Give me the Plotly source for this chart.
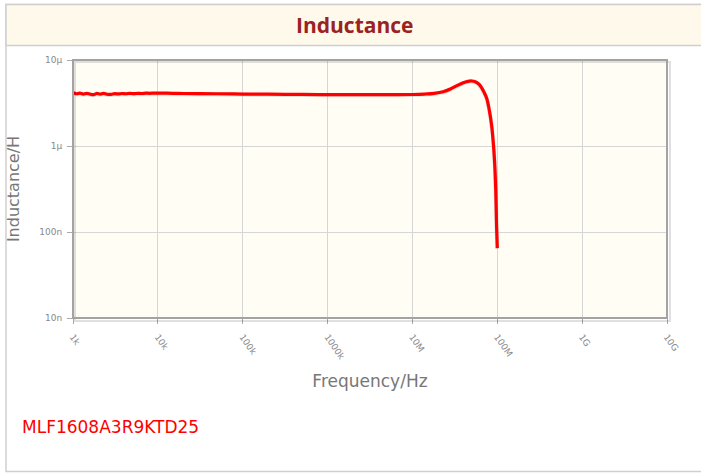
import plotly.graph_objects as go

# ---- data ----
freq_hz = [1000, 1100, 1200, 1320, 1450, 1600, 1750, 1900, 2100, 2300, 2500, 2800,
           3100, 3400, 3800, 4200, 4700, 5200, 5800, 6500, 7200, 8000, 9000, 10000,
           15000, 20000, 30000, 50000, 1e5, 2e5, 5e5, 1e6, 2e6, 5e6, 1e7, 1.4e7,
           1.8e7, 2.3e7, 2.8e7, 3.3e7, 3.9e7, 4.5e7, 5.0e7, 5.5e7, 6.0e7, 6.5e7,
           7.0e7, 7.5e7, 8.0e7, 8.6e7, 9.0e7, 9.3e7, 9.6e7, 9.8e7, 1.0e8]
inductance_uh = [4.15, 4.05, 4.12, 4.02, 4.10, 4.00, 3.95, 4.08, 4.02, 4.10, 4.00, 3.98,
                 4.06, 4.03, 4.08, 4.05, 4.10, 4.06, 4.10, 4.08, 4.12, 4.10, 4.12, 4.12,
                 4.10, 4.08, 4.06, 4.05, 4.02, 4.00, 3.98, 3.96, 3.95, 3.95, 3.97, 4.02,
                 4.10, 4.28, 4.60, 5.00, 5.40, 5.65, 5.70, 5.60, 5.30, 4.80,
                 4.20, 3.60, 2.70, 1.70, 1.05, 0.65, 0.30, 0.12, 0.065]
inductance_h = [v * 1e-6 for v in inductance_uh]

x_tickvals = [1e3, 1e4, 1e5, 1e6, 1e7, 1e8, 1e9, 1e10]
x_ticktext = ["1k", "10k", "100k", "1000k", "10M", "100M", "1G", "10G"]
y_tickvals = [1e-8, 1e-7, 1e-6, 1e-5]
y_ticktext = ["10n", "100n", "1µ", "10µ"]

title_text = "Inductance"
x_title = "Frequency/Hz"
y_title = "Inductance/H"
part_name = "MLF1608A3R9KTD25"

W, H = 701, 474
L, R, T, B = 73, 34, 60, 156
pw, ph = W - L - R, H - T - B

def px(xp):
    return (xp - L) / pw

def py(yp):
    return (H - B - yp) / ph

fig = go.Figure()

# shadow of line
fig.add_trace(go.Scatter(x=freq_hz, y=[v * 0.985 for v in inductance_h], mode="lines",
                         line=dict(color="rgba(0,0,0,0.12)", width=4, shape="spline"),
                         hoverinfo="skip", showlegend=False))
fig.add_trace(go.Scatter(x=freq_hz, y=inductance_h, mode="lines",
                         line=dict(color="#ff0000", width=3.2, shape="spline"),
                         showlegend=False))

shapes = [
    # outer frame
    dict(type="rect", xref="paper", yref="paper", x0=px(6), x1=px(703), y0=py(4.5), y1=py(471.5),
         line=dict(color="#cfcfcf", width=1.5), fillcolor="rgba(0,0,0,0)", layer="below"),
    # title band
    dict(type="rect", xref="paper", yref="paper", x0=px(6), x1=px(703), y0=py(4.5), y1=py(45.5),
         line=dict(color="#cfcfcf", width=1.5), fillcolor="#fef9ea", layer="below"),
    # plot shadow
    dict(type="rect", xref="paper", yref="paper", x0=px(75), x1=px(670), y0=py(62), y1=py(321),
         line=dict(color="rgba(0,0,0,0.12)", width=2), fillcolor="rgba(0,0,0,0)", layer="above"),
    # plot border
    dict(type="rect", xref="paper", yref="paper", x0=0, x1=1, y0=0, y1=1,
         line=dict(color="#a3a3a3", width=2), fillcolor="rgba(0,0,0,0)", layer="above"),
]

fig.update_layout(
    width=W, height=H,
    margin=dict(l=L, r=R, t=T, b=B),
    paper_bgcolor="white",
    plot_bgcolor="#fffdf4",
    font=dict(family="DejaVu Sans, sans-serif", color="#888888"),
    shapes=shapes,
    annotations=[
        dict(text=title_text, xref="paper", yref="paper", x=px(354), y=py(25),
             showarrow=False, xanchor="center", yanchor="middle",
             font=dict(family="Liberation Sans Narrow, Open Sans, sans-serif", size=21,
                       color="#9a2222", weight="bold")),
        dict(text=part_name, xref="paper", yref="paper", x=px(20), y=py(427),
             showarrow=False, xanchor="left", yanchor="middle",
             font=dict(family="DejaVu Sans, sans-serif", size=17, color="#ff0000")),
    ],
    xaxis=dict(type="log", range=[3, 10], tickvals=x_tickvals, ticktext=x_ticktext,
               tickangle=55, tickfont=dict(size=9, color="#8a8a8a"),
               ticklabelstandoff=4,
               showgrid=True, gridcolor="#d6d6d6", gridwidth=1,
               ticks="outside", ticklen=5, tickcolor="#aaaaaa",
               zeroline=False, showline=False,
               title=dict(text=x_title, font=dict(size=17, color="#777777"), standoff=14)),
    yaxis=dict(type="log", range=[-8, -5], tickvals=y_tickvals, ticktext=y_ticktext,
               tickfont=dict(size=9, color="#888888"),
               ticklabelstandoff=3,
               showgrid=True, gridcolor="#d6d6d6", gridwidth=1,
               ticks="outside", ticklen=5, tickcolor="#aaaaaa",
               zeroline=False, showline=False,
               title=dict(text=y_title, font=dict(size=16, color="#777777"), standoff=15)),
)

fig.write_html("out.html", config={"displayModeBar": False},
               post_script="document.body.style.margin='0';")
